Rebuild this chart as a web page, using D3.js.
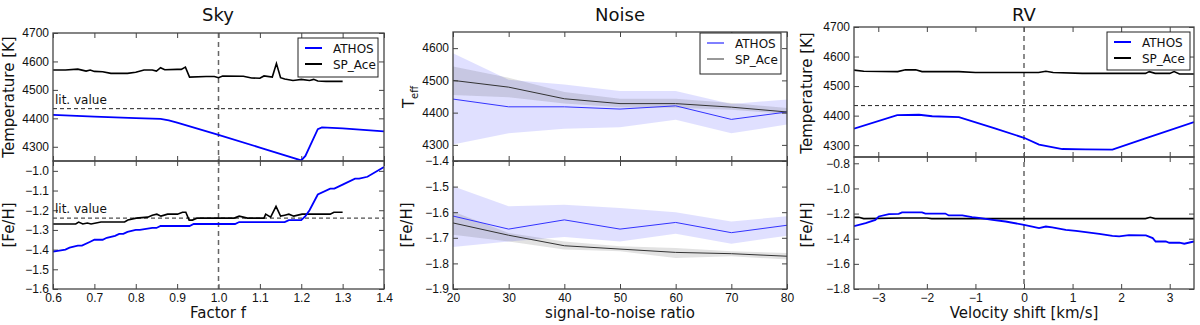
<!DOCTYPE html>
<html>
<head>
<meta charset="utf-8">
<script src="https://cdn.jsdelivr.net/npm/d3@7"></script>
<style>
  body { margin: 0; background: #fff; }
  svg { font-family: "DejaVu Sans", sans-serif; }
  .tick line { stroke: #444; }
  .tick text { fill: #111; font-size: 12px; }
</style>
</head>
<body>
<div id="chart"></div>
<script>
// ---- Sky panel data (factor f) ----
var skyF_sp    = [0.60,0.63,0.66,0.68,0.69,0.70,0.72,0.74,0.78,0.80,0.82,0.84,0.85,0.86,0.87,0.90,0.91,0.92,0.93,0.97,0.99,1.00,1.01,1.06,1.08,1.10,1.11,1.13,1.14,1.15,1.16,1.18,1.19,1.20,1.22,1.23,1.24,1.26,1.30]
var skyTeff_sp = [4570,4570,4573,4566,4570,4565,4564,4558,4558,4562,4570,4570,4566,4578,4571,4572,4572,4580,4545,4547,4547,4543,4549,4548,4542,4541,4549,4545,4593,4543,4538,4533,4535,4537,4533,4537,4531,4530,4530]
var skyF_at    = [0.60,0.70,0.80,0.86,0.88,0.90,1.00,1.10,1.20,1.21,1.24,1.25,1.30,1.40]
var skyTeff_at = [4412,4406,4401,4398,4393,4385,4342,4297,4252,4268,4362,4368,4365,4354]
var skyFeF_sp  = [0.60,0.655,0.662,0.672,0.683,0.692,0.716,0.773,0.781,0.801,0.829,0.84,0.851,0.861,0.877,0.901,0.913,0.921,0.929,0.937,0.949,1.038,1.05,1.07,1.11,1.114,1.126,1.139,1.15,1.16,1.17,1.182,1.202,1.27,1.279,1.30]
var skyFe_sp   = [-1.27,-1.27,-1.26,-1.27,-1.265,-1.27,-1.26,-1.26,-1.25,-1.24,-1.235,-1.225,-1.22,-1.23,-1.22,-1.22,-1.21,-1.21,-1.25,-1.25,-1.24,-1.24,-1.23,-1.24,-1.24,-1.22,-1.235,-1.18,-1.23,-1.225,-1.22,-1.23,-1.22,-1.22,-1.21,-1.21]
var skyFeF_at  = [0.60,0.63,0.64,0.66,0.67,0.69,0.70,0.72,0.73,0.75,0.76,0.77,0.78,0.80,0.81,0.84,0.85,0.86,0.93,0.94,1.04,1.05,1.16,1.17,1.20,1.21,1.22,1.24,1.27,1.28,1.30,1.33,1.34,1.36,1.40]
var skyFe_at   = [-1.41,-1.40,-1.39,-1.38,-1.38,-1.36,-1.35,-1.35,-1.34,-1.33,-1.32,-1.32,-1.31,-1.30,-1.30,-1.29,-1.29,-1.28,-1.28,-1.27,-1.27,-1.26,-1.26,-1.25,-1.25,-1.23,-1.20,-1.12,-1.09,-1.09,-1.07,-1.04,-1.04,-1.03,-0.98]
var skyLitTeff = 4434
var skyLitFe   = -1.24

// ---- Noise panel data (S/N) ----
var snr              = [20,30,40,50,60,70,80]
var noiseTeffAthos   = [4442,4418,4418,4411,4421,4379,4402]
var noiseTeffAthosHi = [4584,4502,4487,4467,4467,4427,4441]
var noiseTeffAthosLo = [4301,4336,4350,4355,4378,4336,4363]
var noiseTeffSp      = [4500,4479,4443,4428,4428,4417,4402]
var noiseTeffSpHi    = [4543,4508,4464,4443,4443,4430,4414]
var noiseTeffSpLo    = [4455,4448,4428,4417,4415,4409,4396]
var noiseFeAthos     = [-1.615,-1.666,-1.630,-1.666,-1.640,-1.680,-1.651]
var noiseFeAthosHi   = [-1.499,-1.577,-1.571,-1.584,-1.600,-1.636,-1.616]
var noiseFeAthosLo   = [-1.736,-1.714,-1.697,-1.714,-1.684,-1.723,-1.692]
var noiseFeSp        = [-1.642,-1.690,-1.731,-1.744,-1.757,-1.762,-1.772]
var noiseFeSpHi      = [-1.597,-1.681,-1.714,-1.733,-1.740,-1.753,-1.759]
var noiseFeSpLo      = [-1.688,-1.714,-1.746,-1.753,-1.779,-1.772,-1.785]

// ---- RV panel data (velocity shift) ----
var rvV_sp    = [-3.5,-3.3,-2.6,-2.44,-2.23,-2.1,-1.34,-1.0,0.3,0.45,0.6,1.2,2.5,2.58,2.7,3.0,3.09,3.2,3.5]
var rvTeff_sp = [4554,4550,4549,4555,4555,4549,4549,4546,4546,4550,4546,4543,4543,4549,4543,4543,4549,4541,4541]
var rvV_at    = [-3.5,-2.61,-2.16,-1.89,-1.34,-0.6,0,0.31,0.79,1.27,1.82,2.5,3.5]
var rvTeff_at = [4356,4402,4403,4398,4395,4357,4325,4302,4287,4286,4285,4323,4378]
var rvFeV_sp  = [-3.5,-3.4,-3.3,-2.5,-2.0,-1.9,2.5,2.6,2.7,3.5]
var rvFe_sp   = [-1.23,-1.23,-1.24,-1.235,-1.235,-1.24,-1.24,-1.23,-1.24,-1.24]
var rvFeV_at  = [-3.5,-3.26,-3.06,-2.99,-2.78,-2.58,-2.51,-2.10,-2.03,-1.62,-1.55,-1.27,-1.07,-0.93,-0.65,-0.38,0,0.17,0.31,0.45,0.58,0.86,1.07,1.27,1.55,1.82,1.96,2.16,2.51,2.65,2.71,2.92,2.99,3.2,3.3,3.5]
var rvFe_at   = [-1.30,-1.276,-1.25,-1.223,-1.205,-1.202,-1.19,-1.19,-1.20,-1.20,-1.215,-1.215,-1.229,-1.235,-1.25,-1.263,-1.29,-1.303,-1.316,-1.303,-1.31,-1.329,-1.337,-1.348,-1.361,-1.377,-1.382,-1.371,-1.374,-1.395,-1.422,-1.422,-1.432,-1.432,-1.44,-1.422]
var rvLitTeff = 4434

var width = 1200, height = 325
var BLUE = "#0000ff"

var svg = d3.select("#chart").append("svg")
    .attr("width", width)
    .attr("height", height)

function zip(xs, ys) { return xs.map(function(x, i) { return [x, ys[i]] }) }

// one sub-axis box: frame + inward ticks on all four sides
function drawBox(g, x, y, xTicks, yTicks, yFmt, showX, xFmt) {
  var x0 = x.range()[0], x1 = x.range()[1], y0 = y.range()[1], y1 = y.range()[0]
  g.append("g").attr("class", "axis")
    .attr("transform", "translate(" + x0 + ",0)")
    .call(d3.axisLeft(y).tickValues(yTicks).tickFormat(yFmt).tickSize(-5).tickPadding(4))
    .call(function(a) { a.select(".domain").remove() })
  g.append("g").attr("class", "axis")
    .attr("transform", "translate(" + x1 + ",0)")
    .call(d3.axisRight(y).tickValues(yTicks).tickFormat("").tickSize(-5))
    .call(function(a) { a.select(".domain").remove() })
  g.append("g").attr("class", "axis")
    .attr("transform", "translate(0," + y0 + ")")
    .call(d3.axisTop(x).tickValues(xTicks).tickFormat("").tickSize(-5))
    .call(function(a) { a.select(".domain").remove() })
  g.append("g").attr("class", "axis")
    .attr("transform", "translate(0," + y1 + ")")
    .call(d3.axisBottom(x).tickValues(xTicks).tickFormat(showX ? xFmt : "").tickSize(-5).tickPadding(4))
    .call(function(a) { a.select(".domain").remove() })
}

function frame(g, x, y) {
  g.append("rect")
    .attr("x", x.range()[0]).attr("y", y.range()[1])
    .attr("width", x.range()[1] - x.range()[0])
    .attr("height", y.range()[0] - y.range()[1])
    .attr("fill", "none").attr("stroke", "#444").attr("stroke-width", 1.3)
}

function clipFor(id, x, y) {
  svg.append("clipPath").attr("id", id).append("rect")
    .attr("x", x.range()[0]).attr("y", y.range()[1])
    .attr("width", x.range()[1] - x.range()[0])
    .attr("height", y.range()[0] - y.range()[1])
  return "url(#" + id + ")"
}

function legend(g, x0, y0, w, h, lw, spColor) {
  var lg = g.append("g").attr("transform", "translate(" + x0 + "," + y0 + ")")
  lg.append("rect").attr("width", w).attr("height", h)
    .attr("fill", "#fff").attr("stroke", "#222").attr("stroke-width", 1)
  var items = [["ATHOS", BLUE], ["SP_Ace", spColor]]
  items.forEach(function(it, i) {
    var yy = 10 + i * 16
    lg.append("line").attr("x1", 7).attr("x2", 24).attr("y1", yy).attr("y2", yy)
      .attr("stroke", it[1]).attr("stroke-width", lw)
    lg.append("text").attr("x", 35).attr("y", yy + 4.5)
      .style("font-size", "12px").attr("fill", "#111").text(it[0])
  })
}

function yLabel(x, y, txt, sub) {
  var t = svg.append("text")
    .attr("transform", "translate(" + x + "," + y + ") rotate(-90)")
    .attr("text-anchor", "middle")
    .style("font-size", "15px").attr("fill", "#111")
  t.append("tspan").text(txt)
  if (sub) t.append("tspan").attr("dy", 4).style("font-size", "10px").text(sub)
}

function title(x, txt) {
  svg.append("text").attr("x", x).attr("y", 21).attr("text-anchor", "middle")
    .style("font-size", "18px").attr("fill", "#111").text(txt)
}

function xLabel(x, txt) {
  svg.append("text").attr("x", x).attr("y", 318).attr("text-anchor", "middle")
    .style("font-size", "15px").attr("fill", "#111").text(txt)
}

var fmt0 = d3.format(".0f"), fmt1 = d3.format(".1f")
var line = function(x, y) { return d3.line().x(function(d) { return x(d[0]) }).y(function(d) { return y(d[1]) }) }

// ================= Sky =================
;(function() {
  var x  = d3.scaleLinear().domain([0.6, 1.4]).range([53, 384])
  var yT = d3.scaleLinear().domain([4250, 4700]).range([161, 33])
  var yF = d3.scaleLinear().domain([-1.6, -0.95]).range([289, 161])
  var g = svg.append("g")
  var xt = d3.range(0.6, 1.401, 0.1)
  drawBox(g, x, yT, xt, [4300,4400,4500,4600,4700], fmt0, false)
  drawBox(g, x, yF, xt, [-1.6,-1.5,-1.4,-1.3,-1.2,-1.1,-1.0], fmt1, true, fmt1)

  // vertical dashed line at f = 1
  g.append("line").attr("x1", x(1)).attr("x2", x(1)).attr("y1", 33).attr("y2", 289)
    .attr("stroke", "#666").attr("stroke-width", 1.5).attr("stroke-dasharray", "5,4")
  // literature values
  g.append("line").attr("x1", 53).attr("x2", 384).attr("y1", yT(skyLitTeff)).attr("y2", yT(skyLitTeff))
    .attr("stroke", "#222").attr("stroke-width", 1).attr("stroke-dasharray", "4,3")
  g.append("line").attr("x1", 53).attr("x2", 384).attr("y1", yF(skyLitFe)).attr("y2", yF(skyLitFe))
    .attr("stroke", "#222").attr("stroke-width", 1).attr("stroke-dasharray", "4,3")
  g.append("text").attr("x", 55).attr("y", yT(skyLitTeff) - 5).style("font-size", "12px").attr("fill", "#111").text("lit. value")
  g.append("text").attr("x", 55).attr("y", yF(skyLitFe) - 5).style("font-size", "12px").attr("fill", "#111").text("lit. value")

  var cT = clipFor("clipSkyT", x, yT), cF = clipFor("clipSkyF", x, yF)
  g.append("path").attr("d", line(x, yT)(zip(skyF_sp, skyTeff_sp))).attr("clip-path", cT)
    .attr("fill", "none").attr("stroke", "#000").attr("stroke-width", 1.6)
  g.append("path").attr("d", line(x, yT)(zip(skyF_at, skyTeff_at))).attr("clip-path", cT)
    .attr("fill", "none").attr("stroke", BLUE).attr("stroke-width", 1.8)
  g.append("path").attr("d", line(x, yF)(zip(skyFeF_sp, skyFe_sp))).attr("clip-path", cF)
    .attr("fill", "none").attr("stroke", "#000").attr("stroke-width", 1.6)
  g.append("path").attr("d", line(x, yF)(zip(skyFeF_at, skyFe_at))).attr("clip-path", cF)
    .attr("fill", "none").attr("stroke", BLUE).attr("stroke-width", 1.8)

  frame(g, x, yT); frame(g, x, yF)
  legend(g, 298, 38, 80, 39, 2, "#000")
  title(218, "Sky")
  xLabel(218, "Factor f")
  yLabel(14, 97, "Temperature [K]")
  yLabel(14, 225, "[Fe/H]")
})()

// ================= Noise =================
;(function() {
  var x  = d3.scaleLinear().domain([20, 80]).range([453, 787])
  var yT = d3.scaleLinear().domain([4250, 4650]).range([161, 32])
  var yF = d3.scaleLinear().domain([-1.9, -1.4]).range([289, 161])
  var g = svg.append("g")
  var xt = snr
  var cT = clipFor("clipNT", x, yT), cF = clipFor("clipNF", x, yF)

  function band(y, lo, hi, color, op, clip) {
    var area = d3.area().x(function(d) { return x(d[0]) })
      .y0(function(d) { return y(d[1]) }).y1(function(d) { return y(d[2]) })
    g.append("path").attr("d", area(snr.map(function(s, i) { return [s, lo[i], hi[i]] })))
      .attr("fill", color).attr("fill-opacity", op).attr("clip-path", clip)
  }
  band(yT, noiseTeffAthosLo, noiseTeffAthosHi, BLUE, 0.12, cT)
  band(yT, noiseTeffSpLo, noiseTeffSpHi, "#222", 0.13, cT)
  band(yF, noiseFeAthosLo, noiseFeAthosHi, BLUE, 0.12, cF)
  band(yF, noiseFeSpLo, noiseFeSpHi, "#222", 0.13, cF)

  g.append("path").attr("d", line(x, yT)(zip(snr, noiseTeffAthos))).attr("clip-path", cT)
    .attr("fill", "none").attr("stroke", "#3333ff").attr("stroke-width", 1)
  g.append("path").attr("d", line(x, yT)(zip(snr, noiseTeffSp))).attr("clip-path", cT)
    .attr("fill", "none").attr("stroke", "#333").attr("stroke-width", 1)
  g.append("path").attr("d", line(x, yF)(zip(snr, noiseFeAthos))).attr("clip-path", cF)
    .attr("fill", "none").attr("stroke", "#3333ff").attr("stroke-width", 1)
  g.append("path").attr("d", line(x, yF)(zip(snr, noiseFeSp))).attr("clip-path", cF)
    .attr("fill", "none").attr("stroke", "#333").attr("stroke-width", 1)

  drawBox(g, x, yT, xt, [4300,4400,4500,4600], fmt0, false)
  drawBox(g, x, yF, xt, [-1.9,-1.8,-1.7,-1.6,-1.5,-1.4], fmt1, true, fmt0)
  frame(g, x, yT); frame(g, x, yF)
  legend(g, 700, 33, 81, 41, 1, "#333")
  title(620, "Noise")
  xLabel(620, "signal-to-noise ratio")
  yLabel(414, 97, "T", "eff")
  yLabel(412, 225, "[Fe/H]")
})()

// ================= RV =================
;(function() {
  var x  = d3.scaleLinear().domain([-3.5, 3.5]).range([854, 1194])
  var yT = d3.scaleLinear().domain([4260, 4700]).range([157, 27])
  var yF = d3.scaleLinear().domain([-1.8, -0.75]).range([289, 157])
  var g = svg.append("g")
  var xt = [-3,-2,-1,0,1,2,3]
  drawBox(g, x, yT, xt, [4300,4400,4500,4600,4700], fmt0, false)
  drawBox(g, x, yF, xt, [-1.8,-1.6,-1.4,-1.2,-1.0,-0.8], fmt1, true, fmt0)

  g.append("line").attr("x1", x(0)).attr("x2", x(0)).attr("y1", 27).attr("y2", 289)
    .attr("stroke", "#666").attr("stroke-width", 1.5).attr("stroke-dasharray", "5,4")
  g.append("line").attr("x1", 854).attr("x2", 1194).attr("y1", yT(rvLitTeff)).attr("y2", yT(rvLitTeff))
    .attr("stroke", "#222").attr("stroke-width", 1).attr("stroke-dasharray", "4,3")

  var cT = clipFor("clipRT", x, yT), cF = clipFor("clipRF", x, yF)
  g.append("path").attr("d", line(x, yT)(zip(rvV_sp, rvTeff_sp))).attr("clip-path", cT)
    .attr("fill", "none").attr("stroke", "#000").attr("stroke-width", 1.6)
  g.append("path").attr("d", line(x, yT)(zip(rvV_at, rvTeff_at))).attr("clip-path", cT)
    .attr("fill", "none").attr("stroke", BLUE).attr("stroke-width", 1.8)
  g.append("path").attr("d", line(x, yF)(zip(rvFeV_sp, rvFe_sp))).attr("clip-path", cF)
    .attr("fill", "none").attr("stroke", "#000").attr("stroke-width", 1.6)
  g.append("path").attr("d", line(x, yF)(zip(rvFeV_at, rvFe_at))).attr("clip-path", cF)
    .attr("fill", "none").attr("stroke", BLUE).attr("stroke-width", 1.8)

  frame(g, x, yT); frame(g, x, yF)
  legend(g, 1107, 32, 83, 38, 2, "#000")
  title(1024, "RV")
  xLabel(1024, "Velocity shift [km/s]")
  yLabel(812, 93, "Temperature [K]")
  yLabel(812, 225, "[Fe/H]")
})()
</script>
</body>
</html>
